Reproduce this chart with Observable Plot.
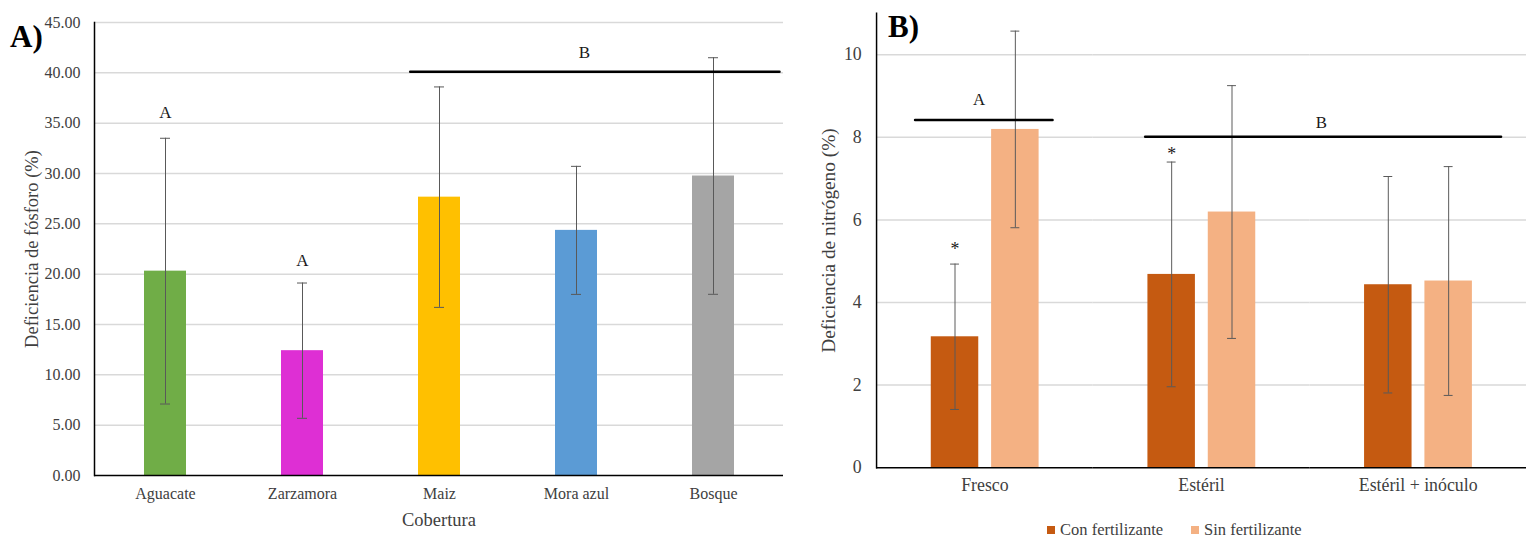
<!DOCTYPE html>
<html><head><meta charset="utf-8">
<script src="https://cdn.jsdelivr.net/npm/d3@7"></script>
<script src="https://cdn.jsdelivr.net/npm/@observablehq/plot@0.6"></script>
<style>
html,body{margin:0;padding:0;background:#fff;}
#wrap{position:relative;width:1527px;height:538px;overflow:hidden;font-family:"Liberation Serif",serif;background:#fff;}
#wrap svg{font-family:"Liberation Serif",serif !important;}
#panelA svg{font-size:16px !important;}
#panelB svg{font-size:18px !important;}
#panelA g[aria-label="x-axis label"] text,
#panelA g[aria-label="y-axis label"] text{font-size:18.5px;}
#panelB g[aria-label="y-axis label"] text{font-size:19.5px;}
#panelA{position:absolute;left:0;top:0;}
#panelB{position:absolute;left:790px;top:0;}
.tag{position:absolute;font-weight:bold;font-size:31px;line-height:1;color:#000;font-family:"Liberation Serif",serif;}
#legendB{position:absolute;left:1047px;top:522px;display:flex;align-items:center;font-size:16.5px;color:#404040;line-height:16px;white-space:nowrap;}
#legendB .item{display:flex;align-items:center;margin-right:28px;}
#legendB .sw{width:8px;height:8px;display:inline-block;margin-right:5px;}
</style></head><body>
<div id="wrap">
  <div id="panelA"></div>
  <div id="panelB"></div>
  <div class="tag" style="left:10px;top:21px">A)</div>
  <div class="tag" style="left:888px;top:11px">B)</div>
  <div id="legendB"></div>
</div>
<script>
// ---------- Panel A data ----------
const coversA = ["Aguacate", "Zarzamora", "Maiz", "Mora azul", "Bosque"];
const meansA = [20.3, 12.4, 27.65, 24.35, 29.75];
const sdsA = [13.2, 6.72, 10.95, 6.36, 11.75];
const colorsA = ["#70AD47", "#DE2FD4", "#FFC000", "#5B9BD5", "#A5A5A5"];
const ticksA = [0, 5, 10, 15, 20, 25, 30, 35, 40, 45];
const letterCoversA = ["Aguacate", "Zarzamora"];
const letterValuesA = [36.05, 21.35];
const letterTextsA = ["A", "A"];
const groupLineA = [{from: "Maiz", to: "Bosque", y: 40.1, label: "B", labelAt: "Mora azul", labelY: 42.0}];

// ---------- Panel B data ----------
const groupsB = ["Fresco", "Estéril", "Estéril + inóculo"];
const seriesB = ["Con fertilizante", "Sin fertilizante"];
const conMeansB = [3.17, 4.68, 4.43];
const conSdsB = [1.76, 2.72, 2.62];
const sinMeansB = [8.19, 6.19, 4.52];
const sinSdsB = [2.38, 3.06, 2.77];
const colorsB = ["#C55A11", "#F4B183"];
const ticksB = [0, 2, 4, 6, 8, 10];
const starGroupsB = ["Fresco", "Estéril"];
const starValuesB = [5.30, 7.59];
const sigLineFrescoB = [{group: "Fresco", y: 8.42, label: "A", labelY: 8.9}];
const sigLineEsterilB = [{group: "Estéril", y: 8.01}];
const sigLabelEsterilB = [{group: "Estéril + inóculo", label: "B", labelY: 8.35}];

// ---------- build tables ----------
const dataA = coversA.map((c, i) => ({cover: c, mean: meansA[i], sd: sdsA[i]}));
const lettersA = letterCoversA.map((c, i) => ({cover: c, y: letterValuesA[i], text: letterTextsA[i]}));
const dataB = [];
groupsB.forEach((g, i) => {
  dataB.push({group: g, series: seriesB[0], mean: conMeansB[i], sd: conSdsB[i]});
  dataB.push({group: g, series: seriesB[1], mean: sinMeansB[i], sd: sinSdsB[i]});
});
const starsB = starGroupsB.map((g, i) => ({group: g, series: seriesB[0], y: starValuesB[i]}));

const errColor = "#595959";
const gridColor = "#d9d9d9";
const baseStyle = {fontFamily: "Liberation Serif", color: "#404040", background: "transparent", overflow: "visible"};

const plotA = Plot.plot({
  width: 790, height: 538,
  marginLeft: 94, marginRight: 7, marginTop: 22, marginBottom: 63,
  style: baseStyle,
  x: {domain: coversA, paddingInner: 0.695, paddingOuter: 0.3475, tickSize: 0, tickPadding: 12,
      label: "Cobertura", labelAnchor: "center", labelOffset: 50, labelArrow: "none"},
  y: {domain: [0, 45], ticks: ticksA, tickFormat: d3.format(".2f"), tickSize: 0, tickPadding: 14,
      label: "Deficiencia de fósforo (%)", labelAnchor: "center", labelOffset: 70, labelArrow: "none"},
  color: {domain: coversA, range: colorsA},
  marks: [
    Plot.ruleY(ticksA.filter(t => t > 0), {stroke: gridColor, strokeWidth: 1.5}),
    Plot.barY(dataA, {x: "cover", y: "mean", fill: "cover"}),
    Plot.ruleX(dataA, {x: "cover", y1: d => d.mean - d.sd, y2: d => d.mean + d.sd, stroke: errColor, strokeWidth: 1}),
    Plot.tickY(dataA, {x: "cover", y: d => d.mean + d.sd, stroke: errColor, strokeWidth: 1, insetLeft: 16, insetRight: 16}),
    Plot.tickY(dataA, {x: "cover", y: d => d.mean - d.sd, stroke: errColor, strokeWidth: 1, insetLeft: 16, insetRight: 16}),
    Plot.ruleY([0], {stroke: "#000", strokeWidth: 1.5}),
    Plot.frame({anchor: "left", stroke: "#000", strokeWidth: 1.5}),
    Plot.text(lettersA, {x: "cover", y: "y", text: "text", fill: "#1a1a1a", fontSize: 17}),
    Plot.arrow(groupLineA, {x1: "from", x2: "to", y1: "y", y2: "y", stroke: "#000", strokeWidth: 2.5,
      headLength: 0, insetStart: -29.3, insetEnd: -66}),
    Plot.text(groupLineA, {x: "labelAt", y: "labelY", text: "label", fill: "#1a1a1a", fontSize: 17, dx: 8})
  ]
});
document.getElementById("panelA").append(plotA);

const plotB = Plot.plot({
  width: 745, height: 538,
  marginLeft: 86.7, marginRight: 0, marginTop: 13, marginBottom: 65.7,
  style: baseStyle,
  fx: {domain: groupsB, paddingInner: 0, paddingOuter: 0, axis: "bottom", label: null, tickSize: 0, tickPadding: 11},
  x: {domain: seriesB, paddingInner: 0.21, paddingOuter: 0.875, axis: null},
  y: {domain: [0, 11], ticks: ticksB, tickSize: 0, tickPadding: 15,
      label: "Deficiencia de nitrógeno (%)", labelAnchor: "center", labelOffset: 56, labelArrow: "none"},
  color: {domain: seriesB, range: colorsB},
  marks: [
    Plot.ruleY(ticksB.filter(t => t > 0), {stroke: gridColor, strokeWidth: 1.5}),
    Plot.barY(dataB, {fx: "group", x: "series", y: "mean", fill: "series"}),
    Plot.ruleX(dataB, {fx: "group", x: "series", y1: d => d.mean - d.sd, y2: d => d.mean + d.sd, stroke: errColor, strokeWidth: 1}),
    Plot.tickY(dataB, {fx: "group", x: "series", y: d => d.mean + d.sd, stroke: errColor, strokeWidth: 1, insetLeft: 19.5, insetRight: 19.5}),
    Plot.tickY(dataB, {fx: "group", x: "series", y: d => d.mean - d.sd, stroke: errColor, strokeWidth: 1, insetLeft: 19.5, insetRight: 19.5}),
    Plot.ruleY([0], {stroke: "#000", strokeWidth: 1.5}),
    Plot.frame({anchor: "left", stroke: "#000", strokeWidth: 1.5, fx: [groupsB[0]]}),
    Plot.arrow(sigLineFrescoB, {fx: "group", x1: () => seriesB[0], x2: () => seriesB[1], y1: "y", y2: "y",
      stroke: "#000", strokeWidth: 2.5, headLength: 0, insetStart: -40.4, insetEnd: -37.6}),
    Plot.arrow(sigLineEsterilB, {fx: "group", x1: () => seriesB[0], x2: () => seriesB[1], y1: "y", y2: "y",
      stroke: "#000", strokeWidth: 2.5, headLength: 0, insetStart: -26.8, insetEnd: -272}),
    Plot.text(sigLineFrescoB, {fx: "group", y: "labelY", text: "label", fill: "#1a1a1a", fontSize: 17, dx: -6}),
    Plot.text(sigLabelEsterilB, {fx: "group", y: "labelY", text: "label", fill: "#1a1a1a", fontSize: 17, frameAnchor: "left", dx: 6}),
    Plot.text(starsB, {fx: "group", x: "series", y: "y", text: () => "*", fill: "#1a1a1a", fontSize: 18})
  ]
});
document.getElementById("panelB").append(plotB);

// legend
const legend = d3.select("#legendB");
seriesB.forEach((s, i) => {
  const it = legend.append("div").attr("class", "item");
  it.append("span").attr("class", "sw").style("background", colorsB[i]);
  it.append("span").text(s);
});
</script>
</body></html>
